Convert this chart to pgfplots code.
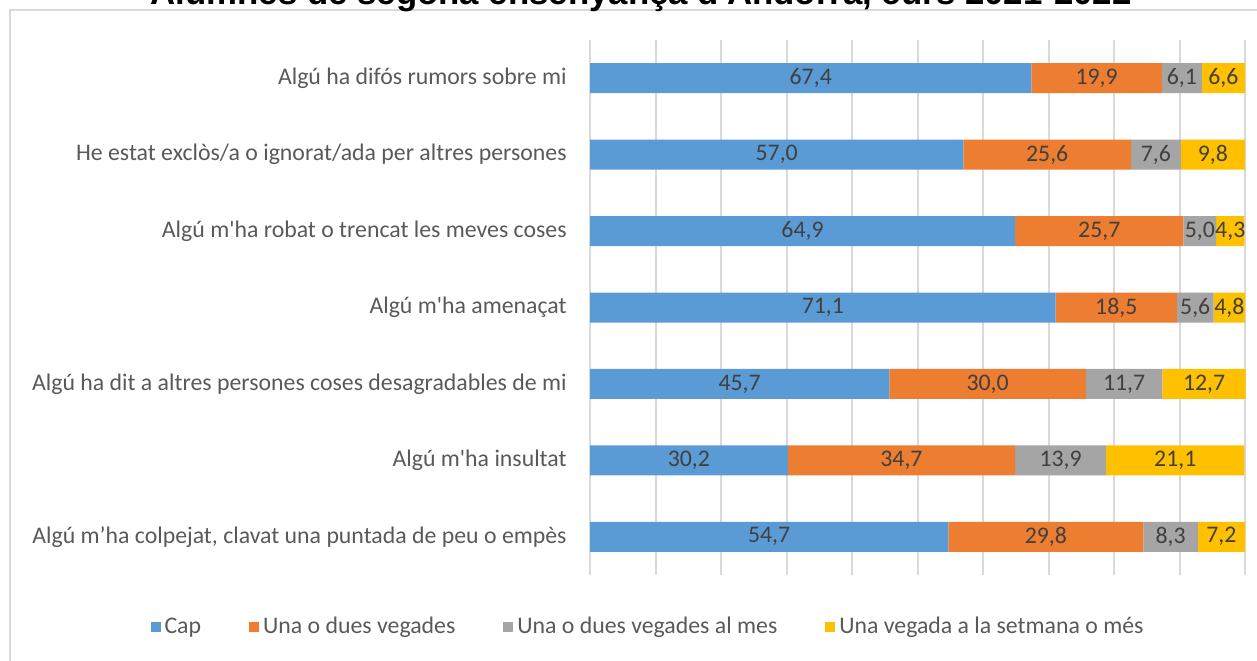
\documentclass[border=0pt]{standalone}
\usepackage{fontspec}
\setmainfont{Carlito}
\newfontfamily\titlefont{Liberation Sans}
\usepackage{pgfplots}
\usepackage{pgfplotstable}
\pgfplotsset{compat=1.18}

\definecolor{cap}{HTML}{5B9BD5}
\definecolor{una}{HTML}{ED7D31}
\definecolor{mes}{HTML}{A5A5A5}
\definecolor{setm}{HTML}{FFC000}
\definecolor{txt}{HTML}{595959}
\definecolor{lbl}{HTML}{404040}
\definecolor{gridc}{HTML}{D9D9D9}

% one row per statement, top to bottom
\pgfplotstableread{
y  cap  una  mes  setm
1  67.4 19.9 6.1  6.6
2  57.0 25.6 7.6  9.8
3  64.9 25.7 5.0  4.3
4  71.1 18.5 5.6  4.8
5  45.7 30.0 11.7 12.7
6  30.2 34.7 13.9 21.1
7  54.7 29.8 8.3  7.2
}\data

\newcommand{\q}{\textquotesingle}

\begin{document}
\begin{tikzpicture}[x=0.5pt,y=0.5pt]
\useasboundingbox (0,0) rectangle (1257,660);
\draw[gridc, line width=1pt] (10,-20) -- (10,650) -- (1280,650);
\node[font=\titlefont\bfseries\fontsize{17.4}{19}\selectfont, anchor=base, text=black]
  at (641,655) {Alumnes de segona ensenyança d\q Andorra, curs 2021-2022};
\begin{axis}[
  at={(295pt,42.5pt)}, anchor=south west,
  width=327.83pt, height=267.5pt, scale only axis,
  xbar stacked, bar width=15pt,
  xmin=0, xmax=100.1, ymin=0.5, ymax=7.5, y dir=reverse,
  xtick={0,10,...,100}, xticklabels={},
  xmajorgrids, grid style={gridc, line width=1pt},
  axis line style={draw=none}, major tick length=0pt,
  ytick={1,...,7},
  yticklabels={
    Algú ha difós rumors sobre mi,
    He estat exclòs/a o ignorat/ada per altres persones,
    Algú m\q ha robat o trencat les meves coses,
    Algú m\q ha amenaçat,
    Algú ha dit a altres persones coses desagradables de mi\hspace{4.5pt},
    Algú m\q ha insultat,
    Algú m’ha colpejat{,} clavat una puntada de peu o empès},
  yticklabel style={font=\fontsize{11.9}{14}\selectfont, text=txt, inner sep=0pt, xshift=-11.5pt},
  /pgf/number format/assume math mode=true,
  point meta=explicit,
  nodes near coords={\pgfmathprintnumber[fixed,zerofill,precision=1,use comma]{\pgfplotspointmeta}},
  every node near coord/.append style={font=\fontsize{11.9}{14}\selectfont, text=lbl,
    anchor=center, inner sep=0pt},
  legend columns=4,
  legend style={at={(0.09,-0.097)}, anchor=center, draw=none, fill=none,
    font=\fontsize{11.9}{14}\selectfont, text=txt,
    /tikz/every even column/.append style={column sep=22pt}},
  legend image code/.code={\fill[#1] (0pt,-2.5pt) rectangle (5pt,2.5pt);},
  legend cell align=left,
]
\addplot[fill=cap, draw=none] table[x=cap, y=y, meta=cap] {\data};
\addlegendentry{Cap}
\addplot[fill=una, draw=none] table[x=una, y=y, meta=una] {\data};
\addlegendentry{Una o dues vegades}
\addplot[fill=mes, draw=none] table[x=mes, y=y, meta=mes] {\data};
\addlegendentry{Una o dues vegades al mes}
\addplot[fill=setm, draw=none] table[x=setm, y=y, meta=setm] {\data};
\addlegendentry{Una vegada a la setmana o més}
\end{axis}
\end{tikzpicture}
\end{document}
